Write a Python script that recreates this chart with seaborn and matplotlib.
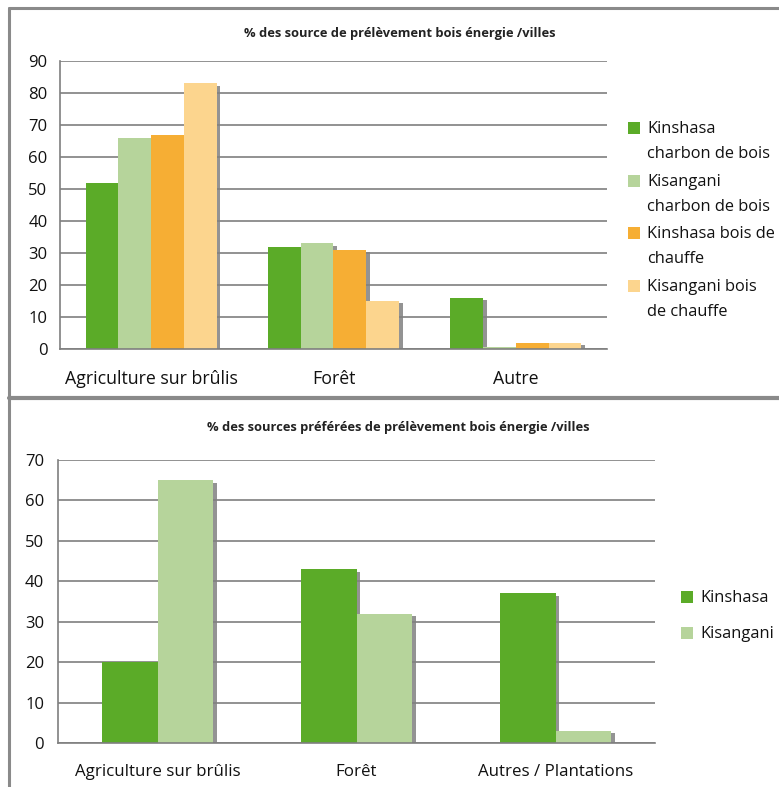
import matplotlib
matplotlib.use("Agg")
import matplotlib.pyplot as plt
import matplotlib.patheffects as pe
from matplotlib.lines import Line2D
from matplotlib.patches import Rectangle
import pandas as pd
import seaborn as sns

# Top chart: share of harvesting sources by city and wood-energy type
top_title = "% des source de prélèvement bois énergie /villes"
top_categories = ["Agriculture sur brûlis", "Forêt", "Autre"]
top_series = ["Kinshasa\ncharbon de bois", "Kisangani\ncharbon de bois",
              "Kinshasa bois de\nchauffe", "Kisangani bois\nde chauffe"]
kin_charbon = [52, 32, 16]
kis_charbon = [66, 33, 0.5]
kin_chauffe = [67, 31, 2]
kis_chauffe = [83, 15, 2]
top_colors = ["#5bab28", "#b6d49b", "#f6ae34", "#fcd58e"]

# Bottom chart: preferred harvesting sources by city
bot_title = "% des sources préférées de prélèvement bois énergie /villes"
bot_categories = ["Agriculture sur brûlis", "Forêt", "Autres / Plantations"]
bot_series = ["Kinshasa", "Kisangani"]
kinshasa_pref = [20, 43, 37]
kisangani_pref = [65, 32, 3]
bot_colors = ["#5bab28", "#b6d49b"]

sns.set_theme(style="white")
plt.rcParams["font.family"] = ["Open Sans", "DejaVu Sans"]

top_df = pd.DataFrame({
    "source": top_categories * 4,
    "serie": sum([[s] * 3 for s in top_series], []),
    "valeur": kin_charbon + kis_charbon + kin_chauffe + kis_chauffe,
})
bot_df = pd.DataFrame({
    "source": bot_categories * 2,
    "serie": sum([[s] * 3 for s in bot_series], []),
    "valeur": kinshasa_pref + kisangani_pref,
})

W, H = 779, 787
fig = plt.figure(figsize=(W / 100, H / 100), dpi=100)

def px_axes(left, top, right, bottom):
    return fig.add_axes([left / W, 1 - bottom / H, (right - left) / W, (bottom - top) / H])

shadow = [pe.SimplePatchShadow(offset=(2.6, -1.8), shadow_rgbFace="#808080", alpha=0.85), pe.Normal()]

def style_axes(ax, ymax, step, ypad, xsize):
    ax.set_ylim(0, ymax)
    ax.set_xlim(-0.5, 2.5)
    ax.set_yticks(range(0, ymax + 1, step))
    ax.yaxis.grid(True, color="#7f7f7f", linewidth=1.2)
    ax.set_axisbelow(True)
    for side in ["top", "right"]:
        ax.spines[side].set_visible(False)
    for side in ["left", "bottom"]:
        ax.spines[side].set_color("#7f7f7f")
        ax.spines[side].set_linewidth(1.2)
    ax.set_xlabel("")
    ax.set_ylabel("")
    ax.tick_params(axis="y", length=0, pad=ypad, labelsize=12, labelcolor="#111111")
    ax.tick_params(axis="x", length=0, pad=15, labelsize=xsize, labelcolor="#111111")
    for bar in ax.patches:
        bar.set_linewidth(0)
        bar.set_path_effects(shadow)
    if ax.get_legend() is not None:
        ax.get_legend().remove()

def side_legend(labels, colors, x, y_first, step):
    # square key beside the first line of each (possibly wrapped) label
    for i, (lab, col) in enumerate(zip(labels, colors)):
        yc = y_first + i * step
        fig.add_artist(Rectangle(((x) / W, 1 - (yc + 6) / H), 12 / W, 12 / H,
                                 facecolor=col, edgecolor="none",
                                 transform=fig.transFigure))
        fig.text((x + 19) / W, 1 - (yc - 7) / H, lab, ha="left", va="top",
                 fontsize=11.8, linespacing=1.75, color="#111111")

ax1 = px_axes(60, 61, 607, 349)
sns.barplot(data=top_df, x="source", y="valeur", hue="serie", order=top_categories,
            hue_order=top_series, palette=top_colors, width=0.72, gap=0,
            saturation=1, ax=ax1, errorbar=None, linewidth=0)
style_axes(ax1, 90, 10, 9, 12.8)

ax2 = px_axes(58, 460, 655, 743)
sns.barplot(data=bot_df, x="source", y="valeur", hue="serie", order=bot_categories,
            hue_order=bot_series, palette=bot_colors, width=0.56, gap=0,
            saturation=1, ax=ax2, errorbar=None, linewidth=0)
style_axes(ax2, 70, 10, 10, 12.2)

fig.text(400 / W, 1 - 33 / H, top_title, ha="center", va="center",
         fontsize=9.3, fontweight="bold", color="#222222")
fig.text(398 / W, 1 - 428 / H, bot_title, ha="center", va="center",
         fontsize=9.3, fontweight="bold", color="#222222")

side_legend(top_series, top_colors, 628, 128, 52.7)
side_legend(bot_series, bot_colors, 681, 597, 36)

# panel frames
frame_kw = dict(color="#8a8a8a", linewidth=2.2, transform=fig.transFigure)
fig.add_artist(Line2D([9 / W, 9 / W], [1 - 8 / H, 1 - 787 / H], **frame_kw))
fig.add_artist(Line2D([9 / W, 1], [1 - 8 / H, 1 - 8 / H], **frame_kw))
fig.add_artist(Line2D([9 / W, 1], [1 - 398 / H, 1 - 398 / H], color="#8a8a8a",
                      linewidth=3, transform=fig.transFigure))

fig.savefig("out.png", dpi=100)
